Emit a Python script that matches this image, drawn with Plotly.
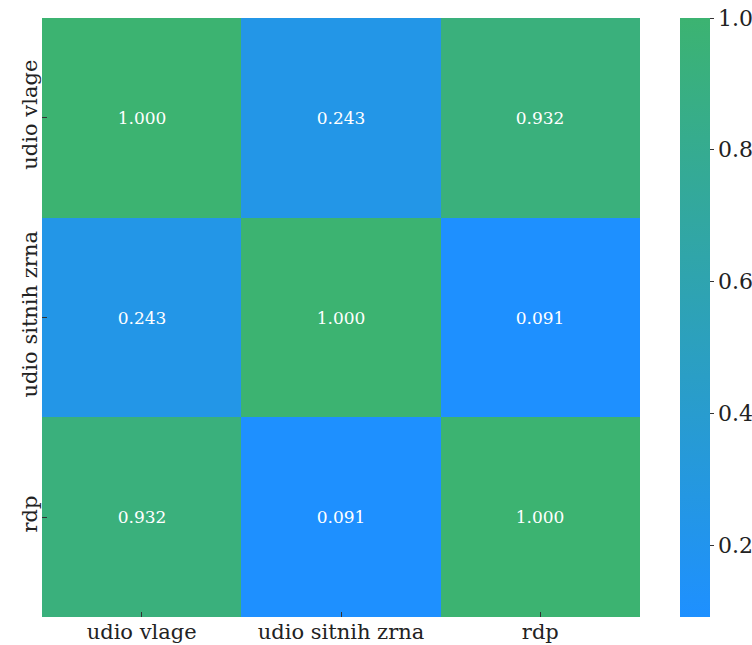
import plotly.graph_objects as go

labels = ["udio vlage", "udio sitnih zrna", "rdp"]
corr = [
    [1.000, 0.243, 0.932],
    [0.243, 1.000, 0.091],
    [0.932, 0.091, 1.000],
]
text = [[f"{v:.3f}" for v in row] for row in corr]

fig = go.Figure(go.Heatmap(
    z=corr, x=labels, y=labels,
    text=text, texttemplate="%{text}",
    textfont=dict(family="DejaVu Serif", size=17, color="white"),
    colorscale=[[0, "#1E90FF"], [1, "#3CB371"]],
    zmin=0.091, zmax=1.0,
    xgap=0, ygap=0,
    colorbar=dict(
        x=1.067, xanchor="left", xref="paper", xpad=0, ypad=0,
        y=0.5, yanchor="middle", len=1.0, lenmode="fraction",
        thickness=30, outlinewidth=0,
        tickvals=[0.2, 0.4, 0.6, 0.8, 1.0], ticktext=["0.2", "0.4", "0.6", "0.8", "1.0"],
        ticks="outside", ticklen=4, tickcolor="#333",
        tickfont=dict(family="DejaVu Serif", size=22, color="#222"),
    ),
))

fig.update_xaxes(
    ticks="inside", ticklen=5, tickcolor="#333",
    tickfont=dict(family="DejaVu Serif", size=21, color="#222"),
    showgrid=False, zeroline=False, showline=False,
)
fig.update_yaxes(
    autorange="reversed",
    ticks="inside", ticklen=5, tickcolor="#333", tickangle=-90,
    tickfont=dict(family="DejaVu Serif", size=21, color="#222"),
    showgrid=False, zeroline=False, showline=False,
)
fig.update_layout(
    width=752, height=645,
    margin=dict(l=42, r=112, t=18, b=28, autoexpand=False),
    paper_bgcolor="white", plot_bgcolor="white",
)
fig.write_html(
    "out.html",
    config={"displayModeBar": False},
    post_script="document.body.style.margin='0';document.body.style.overflow='hidden';",
)
